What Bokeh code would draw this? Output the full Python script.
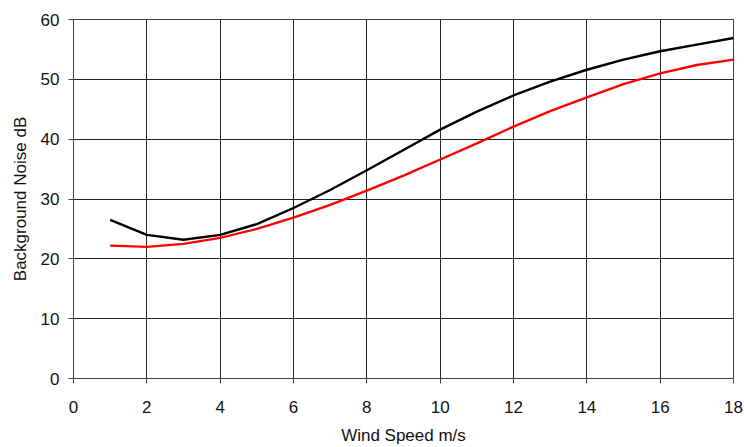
from bokeh.plotting import figure
from bokeh.models import FixedTicker, Range1d
from bokeh.embed import file_html
from bokeh.resources import INLINE

wind_speed = [1, 2, 3, 4, 5, 6, 7, 8, 9, 10, 11, 12, 13, 14, 15, 16, 17, 18]
noise_black = [26.5, 24.0, 23.2, 24.0, 25.8, 28.5, 31.5, 34.8, 38.2, 41.6, 44.6, 47.3, 49.6, 51.6, 53.3, 54.7, 55.8, 56.9]
noise_red = [22.2, 22.0, 22.5, 23.5, 25.0, 26.9, 29.0, 31.4, 33.9, 36.6, 39.3, 42.1, 44.7, 47.0, 49.2, 51.0, 52.4, 53.3]
x_ticks = [0, 2, 4, 6, 8, 10, 12, 14, 16, 18]
y_ticks = [0, 10, 20, 30, 40, 50, 60]

p = figure(width=744, height=447, output_backend="svg", toolbar_location=None,
           x_range=Range1d(0, 18), y_range=Range1d(0, 60))
p.min_border_left = 73
p.min_border_right = 11
p.min_border_top = 19
p.min_border_bottom = 69
p.background_fill_color = "white"
p.border_fill_color = "white"
p.outline_line_color = "#444444"
p.outline_line_width = 1

p.line(wind_speed, noise_black, line_color="#000000", line_width=2.4)
p.line(wind_speed, noise_red, line_color="#ff0000", line_width=2.4)

p.xaxis.ticker = FixedTicker(ticks=x_ticks)
p.yaxis.ticker = FixedTicker(ticks=y_ticks)
p.xaxis.axis_label = "Wind Speed m/s"
p.yaxis.axis_label = "Background Noise dB"
for ax in (p.xaxis, p.yaxis):
    ax.axis_label_text_font = "Liberation Sans"
    ax.axis_label_text_font_style = "normal"
    ax.axis_label_text_font_size = "17px"
    ax.axis_label_text_color = "#111111"
    ax.major_label_text_font = "Liberation Sans"
    ax.major_label_text_font_size = "17px"
    ax.major_label_text_color = "#111111"
    ax.axis_line_color = "#444444"
    ax.major_tick_line_color = "#444444"
    ax.major_tick_in = 0
    ax.major_tick_out = 5
    ax.minor_tick_line_color = None
p.xaxis.major_label_standoff = 17
p.xaxis.axis_label_standoff = 10
p.yaxis.major_label_standoff = 9
p.yaxis.axis_label_standoff = 8

p.xgrid.ticker = FixedTicker(ticks=x_ticks)
p.ygrid.ticker = FixedTicker(ticks=y_ticks)
p.grid.grid_line_color = "#222222"
p.grid.grid_line_alpha = 1.0
p.grid.grid_line_width = 1

open("out.html", "w").write(file_html(p, INLINE))
